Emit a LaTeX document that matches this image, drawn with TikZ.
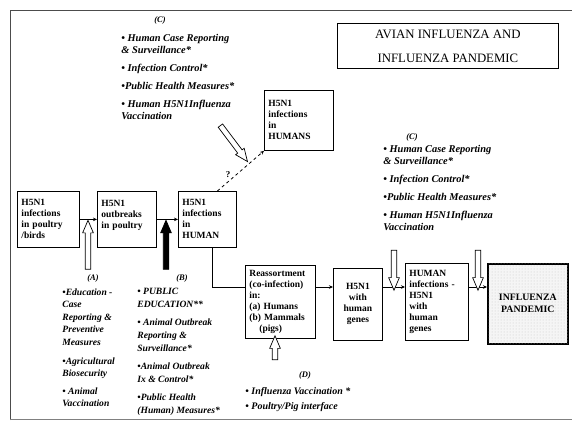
\documentclass[tikz,border=0pt]{standalone}
\usepackage{fontspec}
\setmainfont{Liberation Serif}
\usetikzlibrary{arrows.meta,shapes.arrows,patterns}

\begin{document}
\begin{tikzpicture}[>={Stealth[length=4pt,width=3.5pt]}, thick, x=1pt, y=-1pt,
    stage/.style={draw, anchor=north west, inner sep=4pt, align=left,
        font=\bfseries\fontsize{9.5}{11}\selectfont},
    note/.style={anchor=north west, inner sep=0pt, align=left,
        font=\bfseries\itshape\fontsize{10.4}{12}\selectfont},
    small note/.style={note, font=\bfseries\itshape\fontsize{9.6}{12.6}\selectfont},
    tag/.style={inner sep=0pt, font=\bfseries\itshape\fontsize{8.5}{9}\selectfont},
    hollow/.style={single arrow, draw, fill=white, line width=0.7pt, inner xsep=0pt,
        inner ysep=2.4pt, single arrow head extend=2.6pt, single arrow tip angle=46}]
    \useasboundingbox (0,0) rectangle (572,428);

    % frame of the sheet
    \draw[black!70] (10,420) -- (10,10) -- (572,10);
    \draw[black!50, semithick] (10,419) -- (572,419);

    % title
    \node[draw, anchor=north west, minimum width=221, minimum height=45, align=center,
        font=\fontsize{12.8}{24}\selectfont] (title) at (337,23) {AVIAN INFLUENZA AND\\INFLUENZA PANDEMIC};

    % stages
    \node[stage, minimum height=56, text width=54] (birds) at (17,191) {H5N1\\infections\\in poultry\\/birds};
    \node[stage, minimum height=56, text width=51] (outbreak) at (97,191) {H5N1\\outbreaks\\in poultry\\~};
    \node[stage, minimum height=56, text width=50] (human) at (178,191) {H5N1\\infections\\in\\HUMAN};
    \node[stage, minimum height=60, text width=61] (humans) at (264,90) {H5N1\\infections\\in\\HUMANS};
    \node[stage, minimum height=73, text width=62] (reassort) at (245,265)
        {Reassortment\\(co-infection)\\in:\\(a) Humans\\(b) Mammals\\\hspace*{10pt}(pigs)};
    \node[stage, align=center, minimum height=72, text width=41] (genes) at (333,268) {H5N1\\with\\human\\genes};
    \node[stage, minimum height=77, text width=55] (infect) at (405,263) {HUMAN\\infections -\\H5N1\\with\\human\\genes};
    \node[stage, align=center, line width=1.6pt, minimum height=80, text width=72,
        fill=gray!8, postaction={pattern=dots, pattern color=gray!45},
        font=\bfseries\fontsize{9.8}{12}\selectfont] (pandemic) at (487,263) {INFLUENZA\\PANDEMIC};

    % connectors
    \coordinate (bend) at (212,287);
    \draw[->] (birds) -- (outbreak);
    \draw[->] (outbreak) -- (human);
    \draw (bend |- human.south) -- (bend) -- (reassort.west |- bend);
    \draw[->] (reassort.east |- bend) -- (genes.west |- bend);
    \draw[->] (genes.east |- bend) -- (infect.west |- bend);
    \draw[->] (infect.east |- bend) -- (pandemic.west |- bend);
    \draw[dashed, ->] ([xshift=10pt]human.north) -- (humans.south west)
        node[pos=0.4, left=2pt, font=\bfseries\small] {?};

    % intervention arrows
    \node[hollow, minimum height=49, rotate=90] (arrowA) at (88,248) {};
    \node[hollow, fill=black, minimum height=49, rotate=90] (arrowB) at (166,248) {};
    \node[hollow, minimum height=45, rotate=-53] (arrowC) at (232,141) {};
    \node[hollow, minimum height=40, rotate=-90] (arrowCa) at (394,267) {};
    \node[hollow, minimum height=40, rotate=-90] (arrowCb) at (478,267) {};
    \node[hollow, minimum height=24, rotate=90] (arrowD) at (275,351) {};

    % tags
    \node[tag] (tagA) at (93,278) {(A)};
    \node[tag] (tagB) at (182,278) {(B)};
    \node[tag] (tagC) at (160,20) {(C)};
    \node[tag] (tagCb) at (412,137) {(C)};
    \node[tag] (tagD) at (305,375) {(D)};

    % measures
    \node[note] (listC) at (121,34) {• Human Case Reporting\\\& Surveillance*\\[6pt]• Infection Control*\\[6pt]•Public Health Measures*\\[6pt]• Human H5N1Influenza\\Vaccination};
    \node[note] (listCb) at (383,145) {• Human Case Reporting\\\& Surveillance*\\[6pt]• Infection Control*\\[6pt]•Public Health Measures*\\[6pt]• Human H5N1Influenza\\Vaccination};
    \node[small note] (listA) at (62,288) {•Education -\\Case\\Reporting \&\\Preventive\\Measures\\[6pt]•Agricultural\\Biosecurity\\[5pt]• Animal\\Vaccination};
    \node[small note] (listB) at (137,288) {• PUBLIC\\EDUCATION**\\[6pt]• Animal Outbreak\\Reporting \&\\Surveillance*\\[6pt]•Animal Outbreak\\Ix \& Control*\\[6pt]•Public Health\\(Human) Measures*};
    \node[note, font=\bfseries\itshape\fontsize{10}{15}\selectfont] (listD) at (245,387) {• Influenza Vaccination *\\• Poultry/Pig interface};
\end{tikzpicture}
\end{document}
